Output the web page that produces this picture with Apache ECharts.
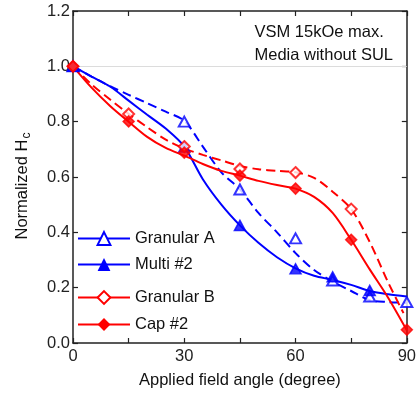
<!DOCTYPE html>
<html>
<head>
<meta charset="utf-8">
<script src="https://cdn.jsdelivr.net/npm/echarts@6/dist/echarts.min.js"></script>
<style>
html,body{margin:0;padding:0;background:#fff;}
#c{width:419px;height:397px;}
</style>
</head>
<body>
<div id="c"></div>
<script>
// ---- Data ----
// Measured points (markers)
var gaX = [0, 30, 45, 60, 70, 80, 90];
var gaY = [1.0, 0.80, 0.555, 0.378, 0.226, 0.168, 0.148];
var m2X = [0, 30, 45, 60, 70, 80];
var m2Y = [1.0, 0.708, 0.425, 0.268, 0.239, 0.19];
var gbX = [0, 15, 30, 45, 60, 75];
var gbY = [1.0, 0.828, 0.71, 0.629, 0.616, 0.484];
var c2X = [0, 15, 30, 45, 60, 75, 90];
var c2Y = [1.0, 0.801, 0.688, 0.605, 0.558, 0.373, 0.048];

// Fitted (smooth) curves, read every 5 degrees
var curveX = [0, 5, 10, 15, 20, 25, 30, 35, 40, 45, 50, 55, 60, 65, 70, 75, 80, 85, 90];
var gaCurveY = [1.0, 0.963, 0.928, 0.897, 0.867, 0.836, 0.803, 0.71, 0.617, 0.555, 0.47, 0.40, 0.325, 0.264, 0.222, 0.188, 0.155, 0.148, 0.145];
var m2CurveY = [1.0, 0.963, 0.927, 0.876, 0.825, 0.775, 0.71, 0.592, 0.50, 0.425, 0.362, 0.31, 0.27, 0.243, 0.228, 0.21, 0.188, 0.176, 0.168];
var gbCurveX = [0, 5, 10, 15, 20, 25, 30, 35, 40, 45, 50, 55, 60, 65, 70, 75, 80, 85, 89.1];
var gbCurveY = [1.0, 0.935, 0.88, 0.828, 0.78, 0.735, 0.703, 0.68, 0.66, 0.64, 0.628, 0.622, 0.617, 0.597, 0.547, 0.484, 0.365, 0.218, 0.108];
var c2CurveY = [1.0, 0.923, 0.857, 0.80, 0.745, 0.705, 0.677, 0.647, 0.622, 0.605, 0.586, 0.571, 0.558, 0.528, 0.47, 0.373, 0.266, 0.163, 0.046];

var xTicks = [0, 30, 60, 90];
var yTicks = [0.0, 0.2, 0.4, 0.6, 0.8, 1.0, 1.2];
var names = ['Granular A', 'Multi #2', 'Granular B', 'Cap #2'];
var notes = ['VSM 15kOe max.', 'Media without SUL'];

function pairs(xs, ys) { return xs.map(function (x, i) { return [x, ys[i]]; }); }

var BLUE = '#0000ff', RED = '#ff0000', AX = '#222';
var FONT = 'Liberation Sans, Arial, sans-serif';

var chart = echarts.init(document.getElementById('c'), null, {renderer: 'canvas'});

function curve(name, data, color, dashed, symbol) {
  return {
    name: name, type: 'line', data: data, smooth: 0.3,
    showSymbol: false, symbol: symbol, symbolSize: 10,
    itemStyle: {color: color},
    lineStyle: {color: color, width: 2, type: dashed ? [9, 5] : 'solid'},
    silent: true, animation: false
  };
}
function pts(name, data, color, symbol) {
  return {
    name: name, type: 'scatter', data: data, symbol: symbol,
    symbolSize: symbol.toLowerCase().indexOf('triangle') >= 0 ? [11, 10] : [11, 11],
    itemStyle: {color: color, borderColor: color, borderWidth: 1.5},
    silent: true, animation: false, z: 5
  };
}

var option = {
  animation: false,
  textStyle: {fontFamily: FONT},
  grid: {left: 73, right: 11, top: 11, bottom: 54, containLabel: false},
  xAxis: [{
    type: 'value', min: 0, max: 90, interval: 15,
    name: 'Applied field angle (degree)', nameLocation: 'middle', nameGap: 29,
    nameTextStyle: {fontSize: 16.5, color: '#111', fontFamily: FONT},
    axisLine: {show: true, onZero: false, lineStyle: {color: AX, width: 1.5}},
    axisTick: {show: true, inside: true, length: 5, lineStyle: {color: AX, width: 1.2}},
    axisLabel: {fontSize: 16.5, color: '#222', margin: 5, fontFamily: FONT,
      formatter: function (v) { return xTicks.indexOf(v) >= 0 ? String(v) : ''; }},
    splitLine: {show: false}
  }, {
    type: 'value', min: 0, max: 90, interval: 15, position: 'top',
    axisLine: {show: true, onZero: false, lineStyle: {color: AX, width: 1.5}},
    axisTick: {show: true, inside: true, length: 5, lineStyle: {color: AX, width: 1.2}},
    axisLabel: {show: false}, splitLine: {show: false}
  }],
  yAxis: [{
    type: 'value', min: 0, max: 1.2, interval: 0.2,
    name: 'Normalized H{sub|c}', nameLocation: 'middle', nameGap: 40, nameRotate: 90,
    nameTextStyle: {fontSize: 16.5, color: '#111', fontFamily: FONT, padding: [0, 18, 0, 0],
      rich: {sub: {fontSize: 12, color: '#111', fontFamily: FONT, padding: [9, 0, 0, 1]}}},
    axisLine: {show: true, onZero: false, lineStyle: {color: AX, width: 1.5}},
    axisTick: {show: true, inside: true, length: 5, lineStyle: {color: AX, width: 1.2}},
    axisLabel: {fontSize: 16.5, color: '#222', margin: 3, fontFamily: FONT,
      formatter: function (v) { return v.toFixed(1); }},
    splitLine: {show: false}
  }, {
    type: 'value', min: 0, max: 1.2, interval: 0.2, position: 'right',
    axisLine: {show: true, onZero: false, lineStyle: {color: AX, width: 1.5}},
    axisTick: {show: true, inside: true, length: 5, lineStyle: {color: AX, width: 1.2}},
    axisLabel: {show: false}, splitLine: {show: false}
  }],
  legend: [{
    left: 77, top: 230, orient: 'vertical', padding: 0, itemGap: 9,
    itemWidth: 52, itemHeight: 16, selectedMode: false,
    lineStyle: {type: 'solid', width: 2},
    textStyle: {fontSize: 16.5, color: '#111', fontFamily: FONT},
    data: [names[0], names[1]]
  }, {
    left: 77, top: 289, orient: 'vertical', padding: 0, itemGap: 10,
    itemWidth: 52, itemHeight: 16, selectedMode: false,
    lineStyle: {type: 'solid', width: 2},
    textStyle: {fontSize: 16.5, color: '#111', fontFamily: FONT},
    data: [names[2], names[3]]
  }],
  graphic: [{
    type: 'text', right: 26, top: 21,
    style: {text: notes[0] + '\n' + notes[1], fontSize: 16.5, lineHeight: 23, fill: '#111',
      fontFamily: FONT, align: 'right'}
  }],
  series: [
    curve(names[0], pairs(curveX, gaCurveY), BLUE, true, 'emptyTriangle'),
    curve(names[1], pairs(curveX, m2CurveY), BLUE, false, 'triangle'),
    curve(names[2], pairs(gbCurveX, gbCurveY), RED, true, 'emptyDiamond'),
    curve(names[3], pairs(curveX, c2CurveY), RED, false, 'diamond'),
    {
      name: 'ref', type: 'line', data: [], silent: true,
      markLine: {silent: true, symbol: ['none', 'none'], label: {show: false},
        lineStyle: {color: '#dcdcdc', width: 1, type: 'solid'},
        data: [{yAxis: 1.0}]},
      z: 1
    },
    pts(names[0] + ' data', pairs(gaX, gaY), BLUE, 'emptyTriangle'),
    pts(names[1] + ' data', pairs(m2X, m2Y), BLUE, 'triangle'),
    pts(names[2] + ' data', pairs(gbX, gbY), RED, 'emptyDiamond'),
    pts(names[3] + ' data', pairs(c2X, c2Y), RED, 'diamond')
  ]
};
chart.setOption(option);
</script>
</body>
</html>
